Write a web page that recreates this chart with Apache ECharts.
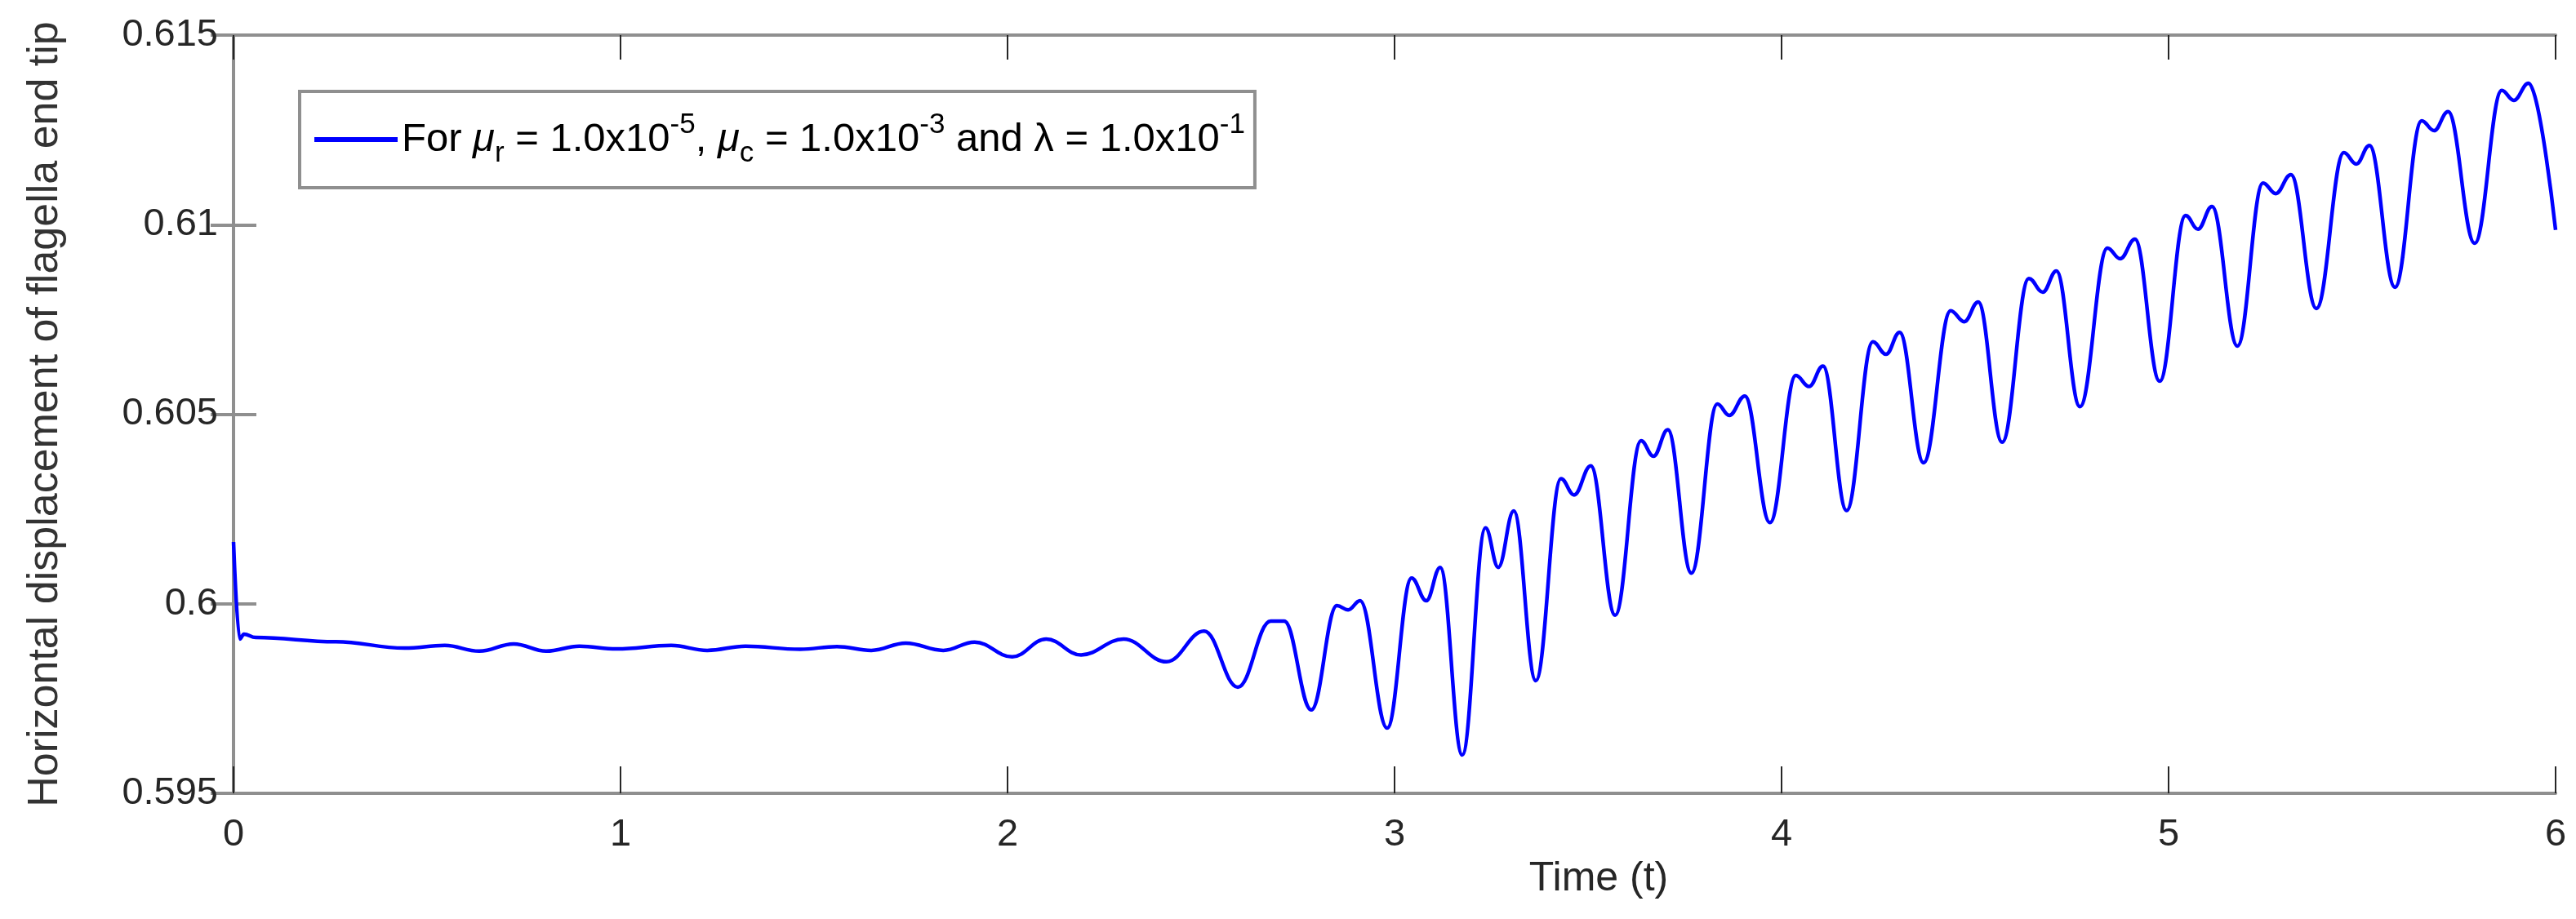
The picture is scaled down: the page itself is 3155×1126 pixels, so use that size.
<!DOCTYPE html>
<html>
<head>
<meta charset="utf-8">
<script src="https://cdn.jsdelivr.net/npm/echarts@6/dist/echarts.min.js"></script>
<style>
  html, body { margin: 0; padding: 0; background: #fff; }
  #chart { width: 3155px; height: 1126px; }
</style>
</head>
<body>
<div id="chart"></div>
<script>
// time samples (t) and tip displacement
var timeT = [
  0, 0.016, 0.027, 0.057, 0.264, 0.442, 0.546, 0.635, 0.724, 0.808,
  0.894, 0.99, 1.131, 1.224, 1.323, 1.464, 1.559, 1.648, 1.737, 1.834,
  1.915, 2.012, 2.10, 2.19, 2.30, 2.411, 2.508, 2.595, 2.68, 2.715,
  2.785, 2.851, 2.88, 2.911, 2.981, 3.044, 3.082, 3.118, 3.175, 3.235,
  3.268, 3.308, 3.365, 3.430, 3.464, 3.507, 3.570, 3.637, 3.669, 3.706,
  3.767, 3.834, 3.865, 3.905, 3.970, 4.037, 4.071, 4.107, 4.168, 4.236,
  4.270, 4.305, 4.367, 4.437, 4.472, 4.508, 4.570, 4.639, 4.675, 4.710,
  4.771, 4.842, 4.875, 4.913, 4.977, 5.044, 5.076, 5.112, 5.178, 5.244,
  5.277, 5.316, 5.382, 5.453, 5.485, 5.519, 5.585, 5.654, 5.686, 5.722,
  5.791, 5.861, 5.892, 5.930, 6.0
];
var dispX = [
  0.60163, 0.59907, 0.59920, 0.59911, 0.59900, 0.59883, 0.59890, 0.59875, 0.59894, 0.59875,
  0.59888, 0.59881, 0.59890, 0.59877, 0.59888, 0.59880, 0.59887, 0.59877, 0.59896, 0.59877,
  0.59899, 0.59860, 0.59907, 0.59865, 0.59907, 0.59847, 0.59928, 0.59780, 0.59954, 0.59954,
  0.59720, 0.59995, 0.59984, 0.60008, 0.59672, 0.60068, 0.60008, 0.60096, 0.59601, 0.60200,
  0.60096, 0.60245, 0.59797, 0.60330, 0.60287, 0.60364, 0.59970, 0.60430, 0.60389, 0.60459,
  0.60081, 0.60527, 0.60497, 0.60548, 0.60214, 0.60602, 0.60573, 0.60627, 0.60246, 0.60691,
  0.60658, 0.60716, 0.60372, 0.60773, 0.60744, 0.60796, 0.60426, 0.60858, 0.60822, 0.60878,
  0.60520, 0.60938, 0.60910, 0.60962, 0.60587, 0.61024, 0.60988, 0.61048, 0.60680, 0.61110,
  0.61082, 0.61132, 0.60779, 0.61190, 0.61160, 0.61209, 0.60835, 0.61274, 0.61248, 0.61298,
  0.60951, 0.61354, 0.61328, 0.61373, 0.60986
];

var seriesName = 'For mu_r = 1.0x10^-5, mu_c = 1.0x10^-3 and lambda = 1.0x10^-1';
var fontFam = "'Liberation Sans', Arial, Helvetica, sans-serif";
var axisGray = '#8f8f8f';
var textDark = '#262626';

var points = timeT.map(function (t, i) { return [t, dispX[i]]; });

var chart = echarts.init(document.getElementById('chart'));

var option = {
    animation: false,
    backgroundColor: '#ffffff',
    grid: {
        left: 286,
        top: 43,
        width: 2844,
        height: 929
    },
    legend: {
        data: [seriesName],
        left: 367,
        top: 112,
        orient: 'horizontal',
        padding: [24, 12, 24, 18],
        icon: 'rect',
        itemWidth: 102,
        itemHeight: 6,
        borderColor: axisGray,
        borderWidth: 4,
        backgroundColor: '#ffffff',
        formatter: function () {
            return '{m|For }{i|\u03bc}{sub|r}{m| = 1.0x10}{sup|-5}{m|, }{i|\u03bc}{sub|c}' +
                '{m| = 1.0x10}{sup|-3}{m| and \u03bb = 1.0x10}{sup|-1}';
        },
        textStyle: {
            color: '#000',
            fontFamily: fontFam,
            rich: {
                m: { fontSize: 49, lineHeight: 70, fontFamily: fontFam, color: '#000' },
                i: { fontSize: 49, lineHeight: 70, fontStyle: 'italic', fontFamily: fontFam, color: '#000' },
                sup: { fontSize: 35, lineHeight: 38, verticalAlign: 'top', fontFamily: fontFam, color: '#000' },
                sub: { fontSize: 35, lineHeight: 32, verticalAlign: 'bottom', fontFamily: fontFam, color: '#000' }
            }
        }
    },
    xAxis: [{
        type: 'value',
        min: 0,
        max: 6,
        interval: 1,
        name: 'Time (t)',
        nameLocation: 'middle',
        nameGap: 70,
        nameTextStyle: {
            fontSize: 50,
            fontFamily: fontFam,
            color: textDark,
            padding: [0, 0, 0, 500]
        },
        axisLine: { show: true, lineStyle: { color: axisGray, width: 4 } },
        axisTick: { show: true, inside: true, length: 33, lineStyle: { color: textDark, width: 2 } },
        axisLabel: { fontSize: 47, fontFamily: fontFam, color: textDark, margin: 28 },
        splitLine: { show: false }
    }, {
        type: 'value',
        position: 'top',
        min: 0,
        max: 6,
        interval: 1,
        axisLine: { show: true, lineStyle: { color: axisGray, width: 4 } },
        axisTick: { show: true, inside: true, length: 30, lineStyle: { color: textDark, width: 2 } },
        axisLabel: { show: false },
        splitLine: { show: false }
    }],
    yAxis: [{
        type: 'value',
        min: 0.595,
        max: 0.615,
        interval: 0.005,
        name: 'Horizontal displacement of flagella end tip',
        nameLocation: 'middle',
        nameGap: 204,
        nameTextStyle: { fontSize: 52, fontFamily: fontFam, color: '#333' },
        axisLine: { show: true, lineStyle: { color: axisGray, width: 4 } },
        axisTick: { show: true, inside: true, length: 28, lineStyle: { color: axisGray, width: 4 } },
        axisLabel: {
            fontSize: 47,
            fontFamily: fontFam,
            color: textDark,
            margin: 19,
            formatter: function (v) { return String(+v.toFixed(3)); }
        },
        splitLine: { show: false }
    }, {
        type: 'value',
        position: 'right',
        min: 0.595,
        max: 0.615,
        interval: 0.005,
        axisLine: { show: true, lineStyle: { color: axisGray, width: 4 } },
        axisTick: { show: true, inside: true, length: 28, lineStyle: { color: axisGray, width: 4 } },
        axisLabel: { show: false },
        splitLine: { show: false }
    }],
    series: [{
        name: seriesName,
        type: 'line',
        xAxisIndex: 0,
        yAxisIndex: 0,
        data: points,
        symbol: 'none',
        smooth: 0.4,
        smoothMonotone: 'x',
        lineStyle: { color: '#0000ff', width: 4.5 },
        itemStyle: { color: '#0000ff' }
    }]
};

chart.setOption(option);
</script>
</body>
</html>
